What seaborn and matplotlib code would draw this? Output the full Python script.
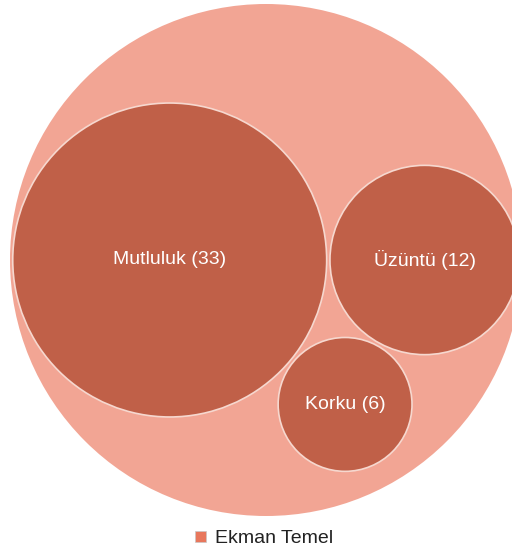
import numpy as np
import pandas as pd
import seaborn as sns
import matplotlib
matplotlib.use("Agg")
import matplotlib.pyplot as plt
from matplotlib.patches import Circle, Patch

# Veriler
grup = "Ekman Temel"
duygular = ["Mutluluk", "Üzüntü", "Korku"]
sayilar = [33, 12, 6]

# Renkler
dis_renk = "#F2A594"
ic_renk = "#C06048"
lejant_renk = "#E8775C"

sns.set_theme(style="white")
plt.rcParams["font.family"] = ["Liberation Sans", "DejaVu Sans"]

df = pd.DataFrame({"duygu": duygular, "sayi": sayilar})
df["r"] = np.sqrt(df["sayi"])

# Basit daire yerlesimi: buyuk daire, yaninda ikinci, altta ikisine tegetli ucuncu
bosluk = 0.12
r1, r2, r3 = df["r"]
x1, y1 = 0.0, 0.0
x2, y2 = r1 + r2 + bosluk, 0.0
d13 = r1 + r3 + bosluk
d23 = r2 + r3 + bosluk
d12 = x2 - x1
x3 = (d13**2 - d23**2 + d12**2) / (2 * d12)
y3 = -np.sqrt(d13**2 - x3**2)
df["x"] = [x1, x2, x3]
df["y"] = [y1, y2, y3]

# Dis daire
sol = (df["x"] - df["r"]).min()
sag = (df["x"] + df["r"]).max()
X0 = (sol + sag) / 2
Y0 = 0.0
R = (sag - sol) / 2 + 0.1
R = max(R, (np.hypot(df["x"] - X0, df["y"] - Y0) + df["r"]).max())

fig = plt.figure(figsize=(5.12, 5.51), dpi=100)
ax = fig.add_axes([0, 0, 1, 1])
ax.set_axis_off()

# piksel olcegi: dis daire yaklasik 512 px cap
s = 256 / R
xmin = X0 - R - 10 / s
ymax = Y0 + R + 4 / s
ax.set_xlim(xmin, xmin + 512 / s)
ax.set_ylim(ymax - 551 / s, ymax)
ax.set_aspect("equal", adjustable="datalim")

ax.add_patch(Circle((X0, Y0), R, facecolor=dis_renk, edgecolor="none"))
for _, row in df.iterrows():
    ax.add_patch(Circle((row["x"], row["y"]), row["r"], facecolor=ic_renk,
                        edgecolor="#F6D8CF", linewidth=1.2))
    ax.text(row["x"], row["y"], f"{row['duygu']} ({row['sayi']})",
            ha="center", va="center", color="white", fontsize=14)

fig.legend(handles=[Patch(facecolor=lejant_renk, edgecolor="#C8C8C8", linewidth=0.5)],
           labels=[grup], loc="center", bbox_to_anchor=(0.516, 0.022),
           frameon=False, fontsize=14, handlelength=0.57, handleheight=0.57,
           handletextpad=0.46, labelcolor="#222222")

fig.savefig("out.png", dpi=100)
